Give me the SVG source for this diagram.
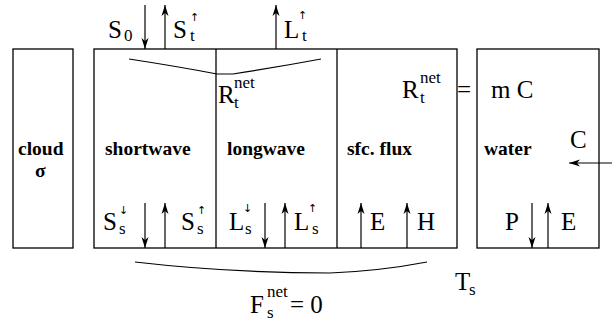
<svg xmlns="http://www.w3.org/2000/svg" width="612" height="324" viewBox="0 0 612 324" font-family="'Liberation Serif', 'Times New Roman', Times, serif">
<defs>
<marker id="ah" markerUnits="userSpaceOnUse" markerWidth="12" markerHeight="8" viewBox="0 0 12 8" refX="11" refY="4" orient="auto">
<path d="M0,0.5 L11,4 L0,7.5 L3,4 z" fill="#000"/>
</marker>
</defs>
<rect width="612" height="324" fill="#fff"/>

<g id="cloud">
<rect x="13" y="49" width="60" height="199" fill="none" stroke="#000" stroke-width="1.3"/>
<text x="18" y="155" font-family="Liberation Serif" font-weight="bold" font-size="19.5">cloud</text>
<text x="35" y="177" font-family="Liberation Serif" font-weight="bold" font-size="19.5">σ</text>
</g>

<g id="atmosphere" fill="none" stroke="#000" stroke-width="1.3">
<rect x="94" y="49" width="363" height="199"/>
<line x1="216" y1="49" x2="216" y2="248"/>
<line x1="337" y1="49" x2="337" y2="248"/>
</g>

<g id="shortwave">
<text x="105" y="155" font-family="Liberation Serif" font-weight="bold" font-size="19.5">shortwave</text>
<text x="103" y="230" font-family="Liberation Serif" font-size="25">S</text>
<text x="119" y="214" font-family="DejaVu Sans" font-size="11">↓</text>
<text x="119" y="234" font-family="Liberation Serif" font-size="17">s</text>
<text x="181" y="230" font-family="Liberation Serif" font-size="25">S</text>
<text x="197" y="214" font-family="DejaVu Sans" font-size="11">↑</text>
<text x="197" y="234" font-family="Liberation Serif" font-size="17">s</text>
</g>

<g id="longwave">
<text x="227" y="155" font-family="Liberation Serif" font-weight="bold" font-size="19.5">longwave</text>
<text x="229" y="230" font-family="Liberation Serif" font-size="25">L</text>
<text x="243" y="212" font-family="DejaVu Sans" font-size="11">↓</text>
<text x="245" y="234" font-family="Liberation Serif" font-size="17">s</text>
<text x="294" y="230" font-family="Liberation Serif" font-size="25">L</text>
<text x="308" y="212" font-family="DejaVu Sans" font-size="11">↑</text>
<text x="312" y="234" font-family="Liberation Serif" font-size="17">s</text>
</g>

<g id="sfcflux">
<text x="347" y="155" font-family="Liberation Serif" font-weight="bold" font-size="19.5">sfc. flux</text>
<text x="370" y="230" font-family="Liberation Serif" font-size="25">E</text>
<text x="417" y="230" font-family="Liberation Serif" font-size="25">H</text>
</g>

<g id="water">
<rect x="477" y="49" width="122" height="199" fill="none" stroke="#000" stroke-width="1.3"/>
<text x="484" y="155" font-family="Liberation Serif" font-weight="bold" font-size="19.5">water</text>
<text x="491" y="98" font-family="Liberation Serif" font-size="25">m C</text>
<text x="505" y="230" font-family="Liberation Serif" font-size="25">P</text>
<text x="561" y="230" font-family="Liberation Serif" font-size="25">E</text>
</g>

<g id="labels">
<text x="108" y="38" font-family="Liberation Serif" font-size="25">S</text>
<text x="124" y="41" font-family="Liberation Serif" font-size="17">0</text>
<text x="173" y="38" font-family="Liberation Serif" font-size="25">S</text>
<text x="190" y="21" font-family="DejaVu Sans" font-size="11">↑</text>
<text x="190" y="41" font-family="Liberation Serif" font-size="17">t</text>
<text x="284" y="38" font-family="Liberation Serif" font-size="25">L</text>
<text x="298" y="19" font-family="DejaVu Sans" font-size="11">↑</text>
<text x="302" y="41" font-family="Liberation Serif" font-size="17">t</text>
<text x="218" y="103" font-family="Liberation Serif" font-size="25">R</text>
<text x="234" y="88" font-family="Liberation Serif" font-size="17">net</text>
<text x="234" y="108" font-family="Liberation Serif" font-size="17">t</text>
<text x="402" y="98" font-family="Liberation Serif" font-size="25">R</text>
<text x="420" y="83" font-family="Liberation Serif" font-size="17">net</text>
<text x="420" y="103" font-family="Liberation Serif" font-size="17">t</text>
<text x="457" y="98" font-family="Liberation Serif" font-size="25">=</text>
<text x="570" y="148" font-family="Liberation Serif" font-size="25">C</text>
<text x="250" y="313" font-family="Liberation Serif" font-size="25">F</text>
<text x="267" y="297" font-family="Liberation Serif" font-size="17">net</text>
<text x="267" y="318" font-family="Liberation Serif" font-size="17">s</text>
<text x="290" y="313" font-family="Liberation Serif" font-size="25">= 0</text>
<text x="455" y="290" font-family="Liberation Serif" font-size="25">T</text>
<text x="469" y="295" font-family="Liberation Serif" font-size="17">s</text>
</g>

<g id="connectors" fill="none" stroke="#000" stroke-width="1.2">
<line x1="145" y1="5" x2="145" y2="49" marker-end="url(#ah)"/>
<line x1="165" y1="49" x2="165" y2="5" marker-end="url(#ah)"/>
<line x1="276" y1="49" x2="276" y2="5" marker-end="url(#ah)"/>
<line x1="145" y1="203" x2="145" y2="248" marker-end="url(#ah)"/>
<line x1="165" y1="248" x2="165" y2="203" marker-end="url(#ah)"/>
<line x1="265" y1="203" x2="265" y2="248" marker-end="url(#ah)"/>
<line x1="285" y1="248" x2="285" y2="203" marker-end="url(#ah)"/>
<line x1="361" y1="248" x2="361" y2="203" marker-end="url(#ah)"/>
<line x1="407" y1="248" x2="407" y2="203" marker-end="url(#ah)"/>
<line x1="532" y1="203" x2="532" y2="248" marker-end="url(#ah)"/>
<line x1="548" y1="248" x2="548" y2="203" marker-end="url(#ah)"/>
<line x1="612" y1="163" x2="569" y2="163" marker-end="url(#ah)"/>
<path d="M129,59 Q175,66 217,74 L233,74 Q278,67 321,59"/>
<path d="M135,262 Q230,273 330,273 Q380,271 427,262"/>
</g>
</svg>
